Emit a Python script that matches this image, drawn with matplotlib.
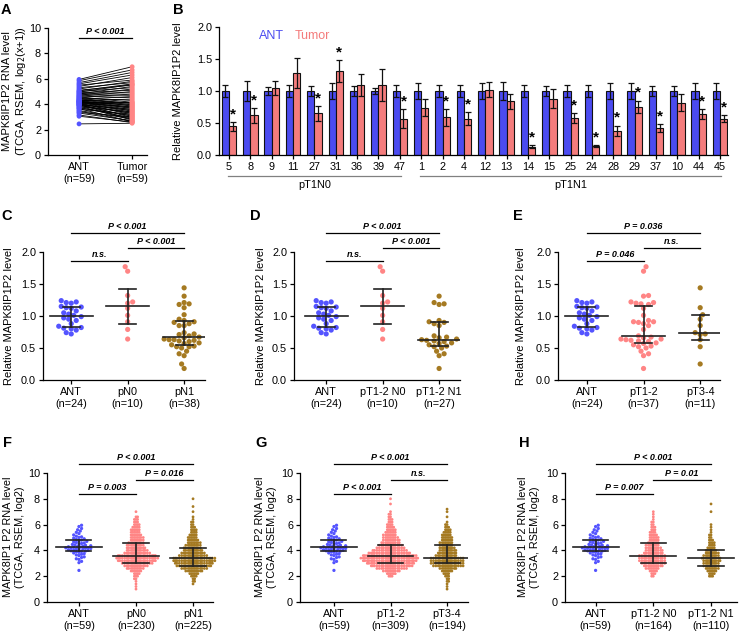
import numpy as np
import matplotlib.pyplot as plt
import matplotlib.transforms as mtrans
from matplotlib.ticker import FormatStrFormatter, MultipleLocator

plt.rcParams['font.family'] = ['Liberation Sans', 'DejaVu Sans']
plt.rcParams['axes.linewidth'] = 0.9

BLUE = '#4b4bf0'
PINK = '#f47c7c'
BROWN = '#a57a22'
DOT_BLUE = '#5454ff'
DOT_PINK = '#ff8585'

# ---- panel A / F-H: TCGA ANT (n=59) and paired tumour values
ant_tcga = [2.45, 3.05, 3.15, 3.3, 3.35, 3.45, 3.5, 3.6, 3.65, 3.7,
            3.75, 3.8, 3.85, 3.9, 3.92, 3.95, 3.97, 4.0, 4.02, 4.05,
            4.07, 4.1, 4.12, 4.15, 4.17, 4.18, 4.2, 4.22, 4.24, 4.26,
            4.28, 4.3, 4.33, 4.36, 4.4, 4.43, 4.46, 4.5, 4.54, 4.58,
            4.62, 4.66, 4.7, 4.75, 4.8, 4.85, 4.9, 4.95, 5.0, 5.05,
            5.1, 5.2, 5.3, 5.4, 5.5, 5.6, 5.7, 5.85, 5.95]
tumor_paired = [2.5, 2.6, 2.55, 2.7, 3.0, 2.65, 2.85, 3.2, 2.62, 3.1,
                2.9, 3.4, 2.75, 3.3, 3.05, 3.6, 2.8, 3.5, 2.95, 3.25,
                3.8, 3.15, 4.0, 3.35, 3.7, 3.45, 4.2, 3.55, 3.9, 3.65,
                4.4, 3.75, 4.1, 3.85, 4.6, 3.95, 4.05, 4.3, 4.8, 4.15,
                5.0, 4.5, 5.2, 4.7, 5.4, 4.9, 5.1, 5.55, 5.3, 5.6,
                5.5, 5.8, 5.7, 6.1, 5.9, 6.3, 6.5, 6.7, 6.95]

# ---- panel B: qPCR pairs
b_labels = ['5', '8', '9', '11', '27', '31', '36', '39', '47',
            '1', '2', '4', '12', '13', '14', '15', '25', '24', '28', '29', '37', '10', '44', '45']
b_ant = [1.0] * 24
b_ant_err = [0.09, 0.15, 0.07, 0.09, 0.08, 0.12, 0.08, 0.05, 0.10,
             0.12, 0.09, 0.09, 0.12, 0.14, 0.09, 0.08, 0.09, 0.10, 0.13, 0.13, 0.08, 0.08, 0.12, 0.12]
b_tumor = [0.45, 0.62, 1.04, 1.28, 0.65, 1.31, 1.09, 1.09, 0.57,
           0.74, 0.59, 0.57, 1.02, 0.84, 0.13, 0.88, 0.58, 0.14, 0.38, 0.75, 0.42, 0.82, 0.64, 0.57]
b_tumor_err = [0.07, 0.12, 0.11, 0.24, 0.12, 0.17, 0.17, 0.25, 0.15,
               0.13, 0.13, 0.10, 0.12, 0.12, 0.02, 0.15, 0.08, 0.02, 0.08, 0.10, 0.06, 0.14, 0.08, 0.05]
b_star = [1, 1, 0, 0, 1, 1, 0, 0, 1,
          0, 1, 1, 0, 0, 1, 0, 1, 1, 1, 1, 1, 0, 1, 1]
b_groups = [('pT1N0', 0, 8), ('pT1N1', 9, 23)]

# ---- panels C-E: relative qPCR levels
rel_ant = [1.24, 1.22, 1.21, 1.20, 1.15, 1.14, 1.13, 1.12, 1.08, 1.05, 1.03, 1.01,
           0.99, 0.97, 0.95, 0.93, 0.88, 0.84, 0.82, 0.81, 0.80, 0.78, 0.74, 0.72]
rel_t12_n0 = [1.77, 1.70, 1.32, 1.22, 1.20, 1.12, 1.01, 0.91, 0.79, 0.64]
rel_t12_n1 = [1.31, 1.21, 1.19, 1.18, 0.93, 0.91, 0.90, 0.88, 0.85, 0.69, 0.67, 0.66, 0.64, 0.63,
              0.62, 0.61, 0.60, 0.58, 0.57, 0.55, 0.53, 0.52, 0.50, 0.45, 0.41, 0.38, 0.18]
rel_t34 = [1.44, 1.13, 1.02, 0.95, 0.85, 0.74, 0.72, 0.71, 0.63, 0.52, 0.25]
rel_n0 = rel_t12_n0
rel_n1 = rel_t12_n1 + rel_t34
rel_t12 = rel_t12_n0 + rel_t12_n1

# ---- panels F-H: TCGA tumour values as counts per level
levels = [1.0, 1.2, 1.4, 1.6, 1.8, 2.0, 2.2, 2.4, 2.6, 2.8, 3.0, 3.2, 3.4, 3.6, 3.8, 4.0, 4.2, 4.4,
          4.6, 4.8, 5.0, 5.2, 5.4, 5.6, 5.8, 6.0, 6.2, 6.4, 6.6, 6.8, 7.0, 7.2, 7.4, 7.6, 7.8, 8.0]
cnt_pn0 = [1, 1, 1, 1, 2, 3, 4, 7, 10, 13, 16, 20, 22, 20, 14, 12, 11, 10,
           9, 8, 8, 7, 6, 6, 5, 4, 3, 3, 2, 0, 1, 0, 0, 0, 0, 0]
cnt_pn1 = [0, 0, 1, 2, 2, 4, 6, 10, 14, 18, 20, 22, 22, 15, 13, 11, 10, 9,
           8, 7, 6, 5, 4, 4, 3, 2, 2, 1, 1, 0, 1, 0, 1, 0, 0, 1]
cnt_t12 = [0, 0, 0, 0, 0, 3, 6, 10, 16, 22, 25, 28, 30, 28, 22, 18, 15, 13,
           11, 10, 9, 8, 7, 6, 5, 4, 3, 3, 2, 2, 1, 0, 0, 1, 0, 1]
cnt_t34 = [1, 1, 1, 2, 2, 3, 4, 7, 10, 16, 17, 17, 17, 12, 11, 10, 9, 8,
           8, 7, 7, 6, 5, 4, 3, 2, 1, 0, 1, 0, 1, 1, 0, 0, 0, 0]
cnt_t12n0 = [0, 0, 0, 0, 0, 2, 3, 5, 8, 11, 13, 14, 14, 14, 11, 10, 9, 8,
             7, 6, 6, 5, 4, 3, 3, 2, 2, 1, 1, 1, 1, 0, 0, 0, 0, 0]
cnt_t12n1 = [0, 0, 0, 0, 0, 3, 4, 6, 8, 9, 9, 10, 11, 9, 8, 7, 5, 4,
             4, 3, 2, 2, 1, 1, 1, 1, 0, 0, 0, 0, 1, 0, 0, 1, 0, 0]

W, H = 739, 636
fig = plt.figure(figsize=(W / 100, H / 100), dpi=100)


def px_axes(x0, x1, ytop, ybot):
    ax = fig.add_axes([x0 / W, 1 - ybot / H, (x1 - x0) / W, (ybot - ytop) / H])
    for s in ('top', 'right'):
        ax.spines[s].set_visible(False)
    ax.tick_params(direction='out', length=3, width=0.9, labelsize=7.8, pad=2)
    return ax


def ylab(x, y, txt, size=8):
    fig.text(x / W, 1 - y / H, txt, rotation=90, ha='center', va='center',
             fontsize=size, linespacing=1.15)


def letter(x, y, s):
    fig.text(x / W, 1 - y / H, s, ha='center', va='center', fontsize=10.5, fontweight='bold')


def sig(ax, x1, x2, y, txt, dy):
    ax.plot([x1, x2], [y, y], color='k', lw=0.9, clip_on=False)
    ax.text((x1 + x2) / 2, y + dy, txt, ha='center', va='bottom', fontsize=6.5,
            fontweight='bold', fontstyle='italic', clip_on=False)


def swarm(vals, ypx, d, step):
    vals = np.asarray(vals, float)
    xs = np.zeros(len(vals))
    placed = []
    for n, i in enumerate(np.argsort(vals, kind='stable')):
        y = vals[i] * ypx
        near = [(px, py) for px, py in placed if abs(py - y) < d]
        sgn = 1 if n % 2 == 0 else -1
        k = 0
        found = None
        while found is None:
            cands = [0.0] if k == 0 else [sgn * k * step, -sgn * k * step]
            for c in cands:
                if all((c - px) ** 2 + (y - py) ** 2 >= d * d for px, py in near):
                    found = c
                    break
            k += 1
        xs[i] = found
        placed.append((found, y))
    return xs


def dots(ax, pos, vals, color, s, ypx, xpx, d, step):
    off = swarm(vals, ypx, d, step) / xpx
    ax.scatter(pos + off, vals, s=s, color=color, edgecolors='none', zorder=2, clip_on=False)


def med_iqr(ax, pos, vals, mw, cw, lw=1.2):
    # GraphPad style quartiles
    q1, m, q3 = np.percentile(vals, [25, 50, 75], method='weibull')
    ax.plot([pos - mw, pos + mw], [m, m], color='#222222', lw=lw, zorder=3)
    ax.plot([pos, pos], [q1, q3], color='#222222', lw=lw, zorder=3)
    for q in (q1, q3):
        ax.plot([pos - cw, pos + cw], [q, q], color='#222222', lw=lw, zorder=3)


# ================= A
axA = px_axes(48, 147, 28, 155)
for a, t in zip(ant_tcga, tumor_paired):
    axA.plot([0, 1], [a, t], color='k', lw=0.6, zorder=1)
axA.scatter(np.zeros(len(ant_tcga)), ant_tcga, s=12, color=DOT_BLUE, edgecolors='none', zorder=2)
axA.scatter(np.ones(len(tumor_paired)), tumor_paired, s=12, color=DOT_PINK, edgecolors='none', zorder=2)
axA.set_xlim(-0.585, 1.28)
axA.set_ylim(0, 10)
axA.yaxis.set_major_locator(MultipleLocator(2))
axA.set_xticks([0, 1])
axA.set_xticklabels(['ANT\n(n=59)', 'Tumor\n(n=59)'], linespacing=1.2)
sig(axA, 0, 1, 9.21, 'P < 0.001', 0.15)
ylab(15, 91, 'MAPK8IP1P2 RNA level\n(TCGA, RSEM, log$_2$(x+1))')
letter(6, 10, 'A')

# ================= B
axB = px_axes(219, 728, 27, 155)
x = np.arange(len(b_labels))
bw = 0.34
axB.bar(x - bw / 2, b_ant, bw, color=BLUE, edgecolor='#111111', lw=0.8, zorder=2)
axB.bar(x + bw / 2, b_tumor, bw, color=PINK, edgecolor='#111111', lw=0.8, zorder=2)
axB.errorbar(x - bw / 2, b_ant, yerr=b_ant_err, fmt='none', ecolor='#111111',
             elinewidth=0.9, capsize=2, capthick=0.9, zorder=3)
axB.errorbar(x + bw / 2, b_tumor, yerr=b_tumor_err, fmt='none', ecolor='#111111',
             elinewidth=0.9, capsize=2, capthick=0.9, zorder=3)
for i in range(len(b_labels)):
    if b_star[i]:
        axB.text(x[i] + bw / 2, b_tumor[i] + b_tumor_err[i] + 0.01, '*', ha='center', va='bottom',
                 fontsize=11, fontweight='bold')
axB.set_xlim(-0.47, 23.37)
axB.set_ylim(0, 2.0)
axB.yaxis.set_major_locator(MultipleLocator(0.5))
axB.yaxis.set_major_formatter(FormatStrFormatter('%.1f'))
axB.set_xticks(x)
axB.set_xticklabels(b_labels)
tr = mtrans.blended_transform_factory(axB.transData, axB.transAxes)
for name, g0, g1 in b_groups:
    axB.plot([g0 - 0.05, g1 + 0.05], [-0.164, -0.164], color='#808080', lw=0.9,
             transform=tr, clip_on=False)
    axB.text((g0 + g1) / 2, -0.235, name, ha='center', va='center', fontsize=7.8, transform=tr)
axB.text(2.0, 1.86, 'ANT', color=BLUE, fontsize=9, ha='center', va='center')
axB.text(3.9, 1.86, 'Tumor', color=PINK, fontsize=9, ha='center', va='center')
ylab(178, 91, 'Relative MAPK8IP1P2 level')
letter(178, 10, 'B')


# ================= C-E
def rel_panel(box, xlim, groups, labels, sigs, lab_x, let_x, let):
    ax = px_axes(*box)
    for i, (vals, col) in enumerate(groups):
        dots(ax, i, vals, col, 14, 64, 56.5, 5.0, 2.5)
        med_iqr(ax, i, vals, 0.38, 0.15)
    ax.set_xlim(*xlim)
    ax.set_ylim(0, 2.0)
    ax.yaxis.set_major_locator(MultipleLocator(0.5))
    ax.yaxis.set_major_formatter(FormatStrFormatter('%.1f'))
    ax.set_xticks(range(3))
    ax.set_xticklabels(labels, linespacing=1.2)
    for x1, x2, y, t in sigs:
        sig(ax, x1, x2, y, t, 0.035)
    ylab(lab_x, 316, 'Relative MAPK8IP1P2 level')
    letter(let_x, 216, let)


rel_panel((43, 205, 252, 380), (-0.5, 2.37),
          [(rel_ant, DOT_BLUE), (rel_n0, DOT_PINK), (rel_n1, BROWN)],
          ['ANT\n(n=24)', 'pN0\n(n=10)', 'pN1\n(n=38)'],
          [(0, 1, 1.86, 'n.s.'), (1, 2, 2.06, 'P < 0.001'), (0, 2, 2.30, 'P < 0.001')], 9, 7, 'C')
rel_panel((294, 460, 252, 380), (-0.57, 2.37),
          [(rel_ant, DOT_BLUE), (rel_t12_n0, DOT_PINK), (rel_t12_n1, BROWN)],
          ['ANT\n(n=24)', 'pT1-2 N0\n(n=10)', 'pT1-2 N1\n(n=27)'],
          [(0, 1, 1.86, 'n.s.'), (1, 2, 2.06, 'P < 0.001'), (0, 2, 2.30, 'P < 0.001')], 261, 255, 'D')
rel_panel((558, 720, 252, 380), (-0.51, 2.35),
          [(rel_ant, DOT_BLUE), (rel_t12, DOT_PINK), (rel_t34, BROWN)],
          ['ANT\n(n=24)', 'pT1-2\n(n=37)', 'pT3-4\n(n=11)'],
          [(0, 1, 1.86, 'P = 0.046'), (1, 2, 2.06, 'n.s.'), (0, 2, 2.30, 'P = 0.036')], 521, 518, 'E')


# ================= F-H
def tcga_panel(box, xlim, counts, labels, sigs, lab_x, let_x, let):
    ax = px_axes(*box)
    dots(ax, 0, ant_tcga, DOT_BLUE, 5.5, 12.9, 56.5, 2.6, 1.3)
    med_iqr(ax, 0, ant_tcga, 0.4, 0.22)
    for i, (cnt, col) in enumerate(counts, start=1):
        vals = np.repeat(levels, cnt)
        dots(ax, i, vals, col, 4.0, 12.9, 56.5, 1.6, 0.8)
        med_iqr(ax, i, vals, 0.4, 0.22)
    ax.set_xlim(*xlim)
    ax.set_ylim(0, 10)
    ax.yaxis.set_major_locator(MultipleLocator(2))
    ax.set_xticks(range(3))
    ax.set_xticklabels(labels, linespacing=1.2)
    for x1, x2, y, t in sigs:
        sig(ax, x1, x2, y, t, 0.17)
    ylab(lab_x, 537, 'MAPK8IP1 P2 RNA level\n(TCGA, RSEM, log2)', 7.8)
    letter(let_x, 443, let)


tcga_panel((47, 213, 473, 602), (-0.56, 2.35),
           [(cnt_pn0, DOT_PINK), (cnt_pn1, BROWN)],
           ['ANT\n(n=59)', 'pN0\n(n=230)', 'pN1\n(n=225)'],
           [(0, 1, 8.37, 'P = 0.003'), (1, 2, 9.46, 'P = 0.016'), (0, 2, 10.67, 'P < 0.001')], 14, 7, 'F')
tcga_panel((300, 468, 473, 602), (-0.6, 2.37),
           [(cnt_t12, DOT_PINK), (cnt_t34, BROWN)],
           ['ANT\n(n=59)', 'pT1-2\n(n=309)', 'pT3-4\n(n=194)'],
           [(0, 1, 8.37, 'P < 0.001'), (1, 2, 9.46, 'n.s.'), (0, 2, 10.67, 'P < 0.001')], 266, 261, 'G')
tcga_panel((565, 737, 473, 602), (-0.53, 2.45),
           [(cnt_t12n0, DOT_PINK), (cnt_t12n1, BROWN)],
           ['ANT\n(n=59)', 'pT1-2 N0\n(n=164)', 'pT1-2 N1\n(n=110)'],
           [(0, 1, 8.37, 'P = 0.007'), (1, 2, 9.46, 'P = 0.01'), (0, 2, 10.67, 'P < 0.001')], 529, 524, 'H')

fig.savefig('out.png', dpi=100)
